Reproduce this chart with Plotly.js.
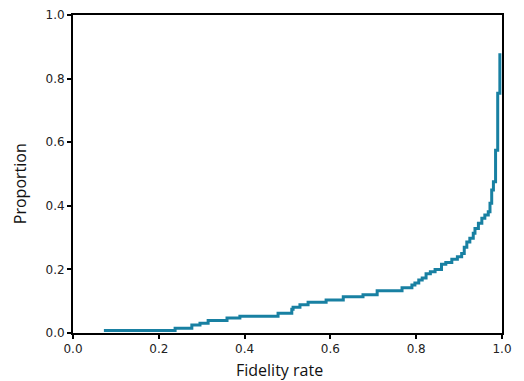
<!DOCTYPE html>
<html>
<head>
<meta charset="utf-8">
<script src="https://cdn.plot.ly/plotly-3.0.1.min.js"></script>
<style>html,body{margin:0;padding:0;background:#fff;}#chart{width:524px;height:381px;}</style>
</head>
<body>
<div id="chart"></div>
<script>
const fidelityRate = [0.072, 0.238, 0.277, 0.296, 0.315, 0.359, 0.389, 0.478, 0.510, 0.513, 0.529, 0.548, 0.590, 0.630, 0.676, 0.709, 0.767, 0.790, 0.797, 0.806, 0.814, 0.823, 0.833, 0.844, 0.859, 0.869, 0.883, 0.896, 0.906, 0.912, 0.918, 0.925, 0.933, 0.937, 0.945, 0.953, 0.960, 0.968, 0.972, 0.976, 0.980, 0.985, 0.990, 0.995];
const proportion = [0.008, 0.015, 0.025, 0.031, 0.039, 0.047, 0.053, 0.062, 0.075, 0.081, 0.089, 0.097, 0.104, 0.114, 0.120, 0.133, 0.142, 0.151, 0.157, 0.167, 0.173, 0.186, 0.193, 0.200, 0.216, 0.222, 0.232, 0.240, 0.250, 0.270, 0.286, 0.298, 0.314, 0.329, 0.345, 0.361, 0.371, 0.381, 0.408, 0.450, 0.476, 0.575, 0.754, 0.880];
const tickVals = [0, 0.2, 0.4, 0.6, 0.8, 1.0];
const tickText = ["0.0", "0.2", "0.4", "0.6", "0.8", "1.0"];
const xTitle = 'Fidelity rate';
const yTitle = 'Proportion';

const trace = {
  x: fidelityRate, y: proportion, type: 'scatter', mode: 'lines',
  line: {shape: 'hv', color: '#1880a2', width: 3},
  hoverinfo: 'none', cliponaxis: false
};
const axisBase = {
  range: [0, 1], tickmode: 'array', tickvals: tickVals, ticktext: tickText,
  showgrid: false, zeroline: false, showline: true, linecolor: '#000', linewidth: 2,
  mirror: true, ticks: 'outside', ticklen: 4, tickwidth: 2, tickcolor: '#000',
  tickfont: {family: 'DejaVu Sans', size: 12, color: '#222'}
};
const titleFont = {family: 'Open Sans', size: 16, color: '#111'};
const layout = {
  width: 524, height: 381,
  margin: {l: 73, r: 22, t: 15, b: 48},
  paper_bgcolor: '#fff', plot_bgcolor: '#fff',
  showlegend: false,
  xaxis: Object.assign({}, axisBase),
  yaxis: Object.assign({}, axisBase),
  annotations: [
    {text: xTitle, xref: 'paper', yref: 'paper', x: 0.4825, y: -0.115, xanchor: 'center', yanchor: 'middle', showarrow: false, font: titleFont},
    {text: yTitle, xref: 'paper', yref: 'paper', x: -0.1235, y: 0.468, xanchor: 'center', yanchor: 'middle', textangle: -90, showarrow: false, font: titleFont}
  ]
};
Plotly.newPlot('chart', [trace], layout, {staticPlot: true, displayModeBar: false});
</script>
</body>
</html>
